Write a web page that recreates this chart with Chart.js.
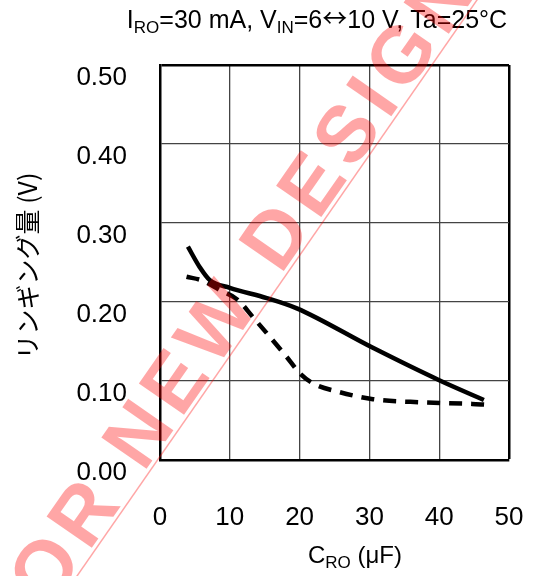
<!DOCTYPE html>
<html><head><meta charset="utf-8">
<script src="https://cdn.jsdelivr.net/npm/chart.js@4/dist/chart.umd.min.js"></script>
<style>html,body{margin:0;padding:0;background:#fff}#wrap{width:539px;height:576px}</style>
</head><body><div id="wrap"><canvas id="c" width="539" height="576"></canvas></div>
<script>
// Data
const solidX = [4.0, 5.7, 7.1, 10.0, 15.3, 19.6, 30.5, 40.0, 46.4];
const solidY = [0.270, 0.244, 0.228, 0.218, 0.205, 0.192, 0.142, 0.101, 0.076];
const dashX = [3.8, 6.1, 8.6, 11.1, 13.3, 18.1, 20.0, 21.9, 25.7, 30.5, 37.6, 44.7, 46.7];
const dashY = [0.232, 0.227, 0.215, 0.203, 0.181, 0.131, 0.110, 0.097, 0.086, 0.077, 0.073, 0.071, 0.070];
const xTicks = [0, 10, 20, 30, 40, 50];
const yTicks = [0.00, 0.10, 0.20, 0.30, 0.40, 0.50];
const titleParts = [["I",0],["RO",1],["=30 mA, V",0],["IN",1],["=6",0],["\u2194",2],["10 V, Ta=25\u00B0C",0]];
const xTitleParts = [["C",0],["RO",1],[" (\u03BCF)",0]];
const yTitle = "リンギング量 (V)";
const watermark = "NOT RECOMMENDED FOR NEW DESIGN";

const FONT = '"Liberation Sans", Arial, sans-serif';
const CJK = '"Noto Sans CJK JP", sans-serif';

function partFont(s, size, subSize) {
  if (s === 1) return subSize + 'px ' + FONT;
  if (s === 2) return size + 'px ' + CJK;
  return size + 'px ' + FONT;
}

function drawParts(ctx, parts, cx, baseY, size, subSize, subDrop) {
  let total = 0;
  const widths = parts.map(([t, s]) => {
    ctx.font = partFont(s, size, subSize);
    const w = ctx.measureText(t).width; total += w; return w;
  });
  let x = cx - total / 2;
  ctx.textAlign = 'left'; ctx.textBaseline = 'alphabetic'; ctx.fillStyle = '#000';
  parts.forEach(([t, s], i) => {
    ctx.font = partFont(s, size, subSize);
    ctx.fillText(t, x, baseY + (s === 1 ? subDrop : (s === 2 ? -1 : 0)));
    x += widths[i];
  });
}

const textPlugin = {
  id: 'texts',
  afterDraw(chart) {
    const ctx = chart.ctx;
    ctx.save();
    drawParts(ctx, titleParts, 317, 28, 25, 17, 5);
    drawParts(ctx, xTitleParts, 355, 563, 24, 17, 5);
    ctx.translate(27, 266); ctx.rotate(-Math.PI / 2);
    ctx.font = '25px ' + CJK;
    ctx.textAlign = 'center'; ctx.textBaseline = 'middle'; ctx.fillStyle = '#000';
    ctx.fillText(yTitle, 0, 0);
    ctx.restore();
    // watermark
    ctx.save();
    ctx.translate(77, 576);
    ctx.rotate(Math.atan2(-576, 400));
    ctx.fillStyle = 'rgba(255,0,0,0.35)';
    ctx.strokeStyle = 'rgba(255,0,0,0.35)';
    ctx.lineWidth = 1.5;
    ctx.beginPath(); ctx.moveTo(-200, 0); ctx.lineTo(1000, 0); ctx.stroke();
    ctx.font = 'bold 80px ' + FONT;
    ctx.letterSpacing = '8px';
    const pre = 'NOT RECOMMENDED FOR NEW ';
    const preW = ctx.measureText(pre).width;
    const dW = ctx.measureText('D').width - 8;
    ctx.textAlign = 'left'; ctx.textBaseline = 'alphabetic';
    ctx.fillText(watermark, 392 - (preW + dW / 2), -4);
    ctx.restore();
  }
};

const isEdge = (c) => c.tick && (c.tick.value === 50 || Math.abs(c.tick.value - 0.5) < 1e-9);
const gridColor = (c) => isEdge(c) ? '#000' : '#444';
const gridWidth = (c) => isEdge(c) ? 2.5 : 1.3;

new Chart(document.getElementById('c'), {
  type: 'line',
  data: {
    datasets: [
      { data: solidX.map((x, i) => ({x, y: solidY[i]})), borderColor: '#000', borderWidth: 4.5,
        pointRadius: 0, cubicInterpolationMode: 'monotone', fill: false },
      { data: dashX.map((x, i) => ({x, y: dashY[i]})), borderColor: '#000', borderWidth: 4.5,
        borderDash: [13, 9], pointRadius: 0, cubicInterpolationMode: 'monotone', fill: false }
    ]
  },
  options: {
    responsive: false, animation: false,
    layout: { padding: { top: 65, right: 30, left: 0, bottom: 0 } },
    plugins: { legend: { display: false }, tooltip: { enabled: false } },
    scales: {
      x: {
        type: 'linear', min: 0, max: 50,
        afterBuildTicks: (s) => { s.ticks = xTicks.map(v => ({value: v})); },
        afterFit: (s) => { s.height = 116; s.paddingLeft = 0; s.paddingRight = 0; },
        grid: { color: gridColor, lineWidth: gridWidth, drawTicks: false },
        border: { color: '#000', width: 2.5 },
        ticks: { color: '#000', font: { size: 26, family: FONT }, padding: 42, maxRotation: 0 }
      },
      y: {
        type: 'linear', min: 0, max: 0.5,
        afterBuildTicks: (s) => { s.ticks = yTicks.map(v => ({value: v})); },
        afterFit: (s) => { s.width = 160; s.paddingTop = 0; s.paddingBottom = 0; },
        grid: { color: gridColor, lineWidth: gridWidth, drawTicks: false },
        border: { color: '#000', width: 2.5 },
        ticks: { color: '#000', font: { size: 26, family: FONT }, padding: 33, labelOffset: 13,
          callback: (v) => Number(v).toFixed(2) }
      }
    }
  },
  plugins: [textPlugin]
});
</script></body></html>
